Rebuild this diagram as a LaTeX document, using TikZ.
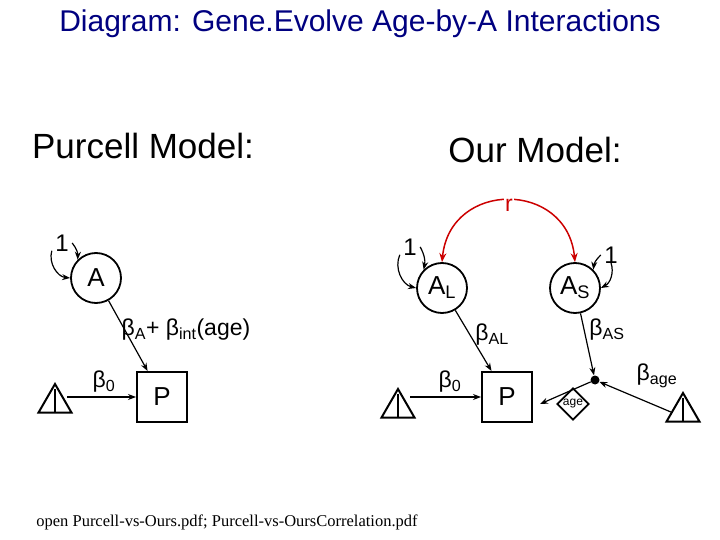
\documentclass[tikz,border=0pt]{standalone}
\usepackage{fontspec}
\setmainfont{Liberation Sans}
\newfontfamily\serifft{Liberation Serif}
\usetikzlibrary{shapes.geometric,arrows.meta}
\begin{document}
\begin{tikzpicture}[x=1pt,y=-1pt,
 lat/.style={circle,draw,line width=1.8pt,minimum size=50pt,inner sep=0pt,font=\fontsize{26}{26}\selectfont},
 obs/.style={rectangle,draw,line width=2pt,minimum size=50pt,inner sep=0pt,font=\fontsize{26}{26}\selectfont},
 tri/.style={regular polygon,regular polygon sides=3,draw,line width=2pt,minimum size=38pt,inner sep=0pt},
 arr/.style={-{Stealth[length=8pt,width=6pt]},line width=1.2pt},
 lbl/.style={font=\fontsize{23}{23}\selectfont},
 one/.style={font=\fontsize{24}{24}\selectfont}]
\useasboundingbox (0,0) rectangle (720,540);
\node[text=blue!50!black,font=\fontsize{30}{30}\selectfont] (title) at (360,24) {Diagram: Gene.Evolve Age-by-A Interactions};
\node[font=\fontsize{35}{35}\selectfont] (pm) at (143,146) {Purcell Model:};
\node[font=\fontsize{35}{35}\selectfont] (om) at (535,150) {Our Model:};
% Purcell
\node[lat] (A) at (96,278) {A};
\node[obs] (P1) at (162,397) {P};
\node[tri] (T1) at (55,403) {};
\draw[line width=1.2pt] (55,389) -- (55,413);
\node[one] (o1) at (62,243) {1};
\draw[arr] (o1.east) to[bend left=20] (A.north west);
\draw[arr] ([yshift=4pt]o1.south west) to[bend right=50] (A.west);
\draw[arr] (A) -- (P1);
\draw[arr] (T1.east|-P1) -- (P1);
\node[lbl,anchor=west] (la) at (118,330) {β\textsubscript{A}+ β\textsubscript{int}(age)};
\node[lbl] (b01) at (104,382) {β\textsubscript{0}};
% Ours
\node[lat] (AL) at (442,288) {A\textsubscript{L}};
\node[lat] (AS) at (575,288) {A\textsubscript{S}};
\node[obs] (P2) at (507,397) {P};
\node[tri] (T2) at (398,408) {};
\draw[line width=1.2pt] (398,394) -- (398,418);
\node[tri] (T3) at (683,412) {};
\draw[line width=1.2pt] (683,398) -- (683,422);
\node[circle,fill,inner sep=0pt,minimum size=9pt] (dot) at (595,380) {};
\node[diamond,draw,line width=1.8pt,inner sep=0pt,minimum size=32pt,font=\fontsize{12}{12}\selectfont] (age) at (573,404) {age};
\node[one] (o2) at (410,247) {1};
\node[one] (o3) at (611,255) {1};
\draw[arr] (o2.east) to[bend left=20] (AL.north west);
\draw[arr] ([yshift=4pt]o2.south west) to[bend right=50] (AL.west);
\draw[arr] (o3.west) to[bend right=20] (AS.north east);
\draw[arr] ([yshift=4pt]o3.south) to[bend left=40] (AS.east);
\draw[{Stealth[length=9pt,width=7pt]}-{Stealth[length=9pt,width=7pt]},line width=1.5pt,red!80!black] (AL.north) .. controls (450,180) and (567,180) .. (AS.north);
\node[text=red!80!black,fill=white,inner sep=1pt,font=\fontsize{23}{23}\selectfont] (r) at (509,205) {r};
\draw[arr] (AL) -- (P2);
\draw[arr] (AS) -- (dot);
\draw[arr] (T3.west) -- (dot);
\draw[arr] (dot) -- (540,404);
\draw[arr] (T2.east|-P2) -- (P2);
\node[lbl] (bal) at (492,335) {β\textsubscript{AL}};
\node[lbl] (bas) at (607,330) {β\textsubscript{AS}};
\node[lbl] (bag) at (657,376) {β\textsubscript{age}};
\node[lbl] (b02) at (450,382) {β\textsubscript{0}};
\node[font=\serifft\fontsize{16.5}{16.5}\selectfont] (foot) at (227,522) {open Purcell-vs-Ours.pdf; Purcell-vs-OursCorrelation.pdf};
\end{tikzpicture}
\end{document}
